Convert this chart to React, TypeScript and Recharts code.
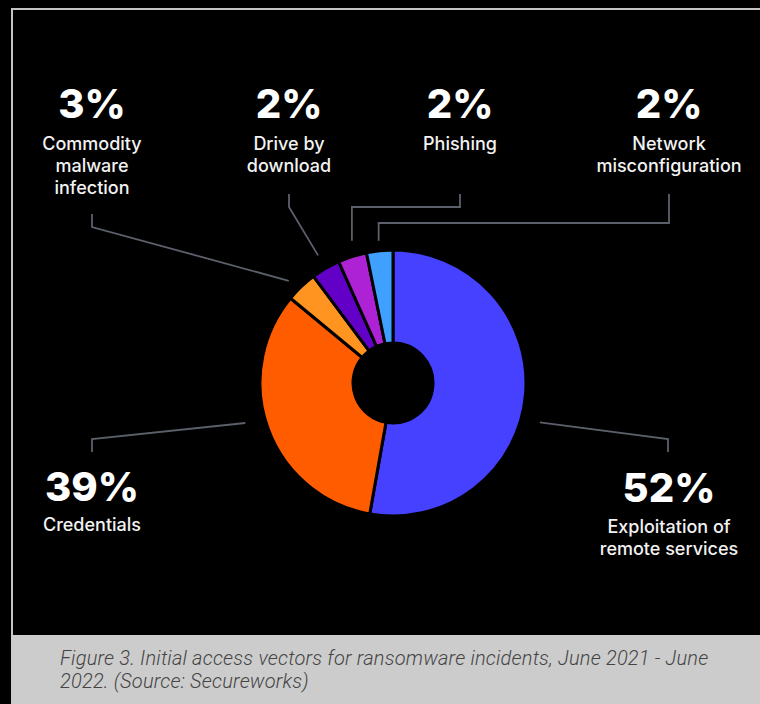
import { PieChart, Pie, Cell } from 'recharts';

// slice order, clockwise from 12 o'clock
const categories = [
  'Exploitation of remote services',
  'Credentials',
  'Commodity malware infection',
  'Drive by download',
  'Phishing',
  'Network misconfiguration',
];
const shareLabels = ['52%', '39%', '3%', '2%', '2%', '2%'];
// slice sizes as drawn in the figure
const sliceValues = [52.8, 33.2, 3.8, 3.5, 3.5, 3.2];
const labelLines = [
  ['Exploitation of', 'remote services'],
  ['Credentials'],
  ['Commodity', 'malware', 'infection'],
  ['Drive by', 'download'],
  ['Phishing'],
  ['Network', 'misconfiguration'],
];
const captionLines = [
  'Figure 3. Initial access vectors for ransomware incidents, June 2021 - June',
  '2022. (Source: Secureworks)',
];

const COLORS = ['#4640ff', '#ff5c00', '#ff9420', '#6200c8', '#ae22d6', '#40a0ff'];

const data = categories.map((name, i) => ({ name, value: sliceValues[i] }));

// where each callout sits and how its leader line bends (null x = keep previous x)
const layout = [
  { x: 669, pctY: 502, textY: 533, r: 152, nudge: 10, pts: [[668, 439], [668, 452]] },
  { x: 92, pctY: 501, textY: 531, r: 153, nudge: 5, pts: [[92, 439], [92, 452]] },
  { x: 92, pctY: 118, textY: 150, r: 146, nudge: -2, pts: [[92, 227], [92, 214]] },
  { x: 289, pctY: 118, textY: 150, r: 148, nudge: 0, pts: [[289, 207], [289, 194]] },
  { x: 460, pctY: 118, textY: 150, r: 148, nudge: 1.7, pts: [[null, 207], [460, 207], [460, 194]] },
  { x: 669, pctY: 118, textY: 150, r: 143, nudge: 0, pts: [[null, 223], [669, 223], [669, 194]] },
];

const RAD = Math.PI / 180;

function renderLabel(props: any) {
  const { cx, cy, midAngle, index } = props;
  const l = layout[index];
  const theta = 90 - midAngle + l.nudge; // clockwise from top
  const sx = cx + l.r * Math.sin(theta * RAD);
  const sy = cy - l.r * Math.cos(theta * RAD);
  let px = sx;
  const pts = [[sx, sy]];
  l.pts.forEach(([x, y]) => {
    const nx = x == null ? px : x;
    pts.push([nx, y as number]);
    px = nx;
  });
  return (
    <g key={`lbl-${index}`}>
      <polyline
        points={pts.map((p) => p.join(',')).join(' ')}
        fill="none"
        stroke="#5b606b"
        strokeWidth={1.8}
      />
      <text
        x={l.x}
        y={l.pctY}
        textAnchor="middle"
        fill="#ffffff"
        style={{ fontFamily: 'Inter', fontWeight: 800, fontSize: 40 }}
      >
        {shareLabels[index]}
      </text>
      <text
        textAnchor="middle"
        fill="#f2f2f2"
        style={{ fontFamily: 'Inter', fontWeight: 500, fontSize: 18 }}
      >
        {labelLines[index].map((line, j) => (
          <tspan key={j} x={l.x} y={l.textY + j * 22}>
            {line}
          </tspan>
        ))}
      </text>
    </g>
  );
}

export default function App() {
  return (
    <div
      style={{
        position: 'fixed',
        top: 0,
        left: 0,
        width: 760,
        height: 704,
        background: '#000',
        overflow: 'hidden',
      }}
    >
      <div
        style={{
          position: 'absolute',
          left: 11,
          top: 8,
          width: 760,
          height: 627,
          borderTop: '2.5px solid #c4c4c4',
          borderLeft: '2.5px solid #c4c4c4',
          boxSizing: 'border-box',
        }}
      />
      <div
        style={{
          position: 'absolute',
          left: 11,
          top: 635,
          width: 760,
          height: 69,
          background: '#cccccc',
        }}
      >
        <div
          style={{
            position: 'absolute',
            left: 49,
            top: 12,
            whiteSpace: 'nowrap',
            fontFamily: 'Roboto',
            fontStyle: 'italic',
            fontWeight: 300,
            fontSize: 20,
            letterSpacing: 0.2,
            lineHeight: '23px',
            color: '#444444',
          }}
        >
          {captionLines.map((t) => (
            <div key={t}>{t}</div>
          ))}
        </div>
      </div>
      <div style={{ position: 'absolute', left: 0, top: 0 }}>
        <PieChart width={760} height={704} margin={{ top: 0, right: 0, bottom: 0, left: 0 }}>
          <Pie
            data={data}
            dataKey="value"
            nameKey="name"
            cx={393}
            cy={383}
            innerRadius={40}
            outerRadius={133}
            startAngle={90}
            endAngle={-270}
            stroke="#000"
            strokeWidth={3}
            label={renderLabel}
            labelLine={false}
            isAnimationActive={false}
          >
            {data.map((d, i) => (
              <Cell key={d.name} fill={COLORS[i]} />
            ))}
          </Pie>
        </PieChart>
      </div>
    </div>
  );
}
